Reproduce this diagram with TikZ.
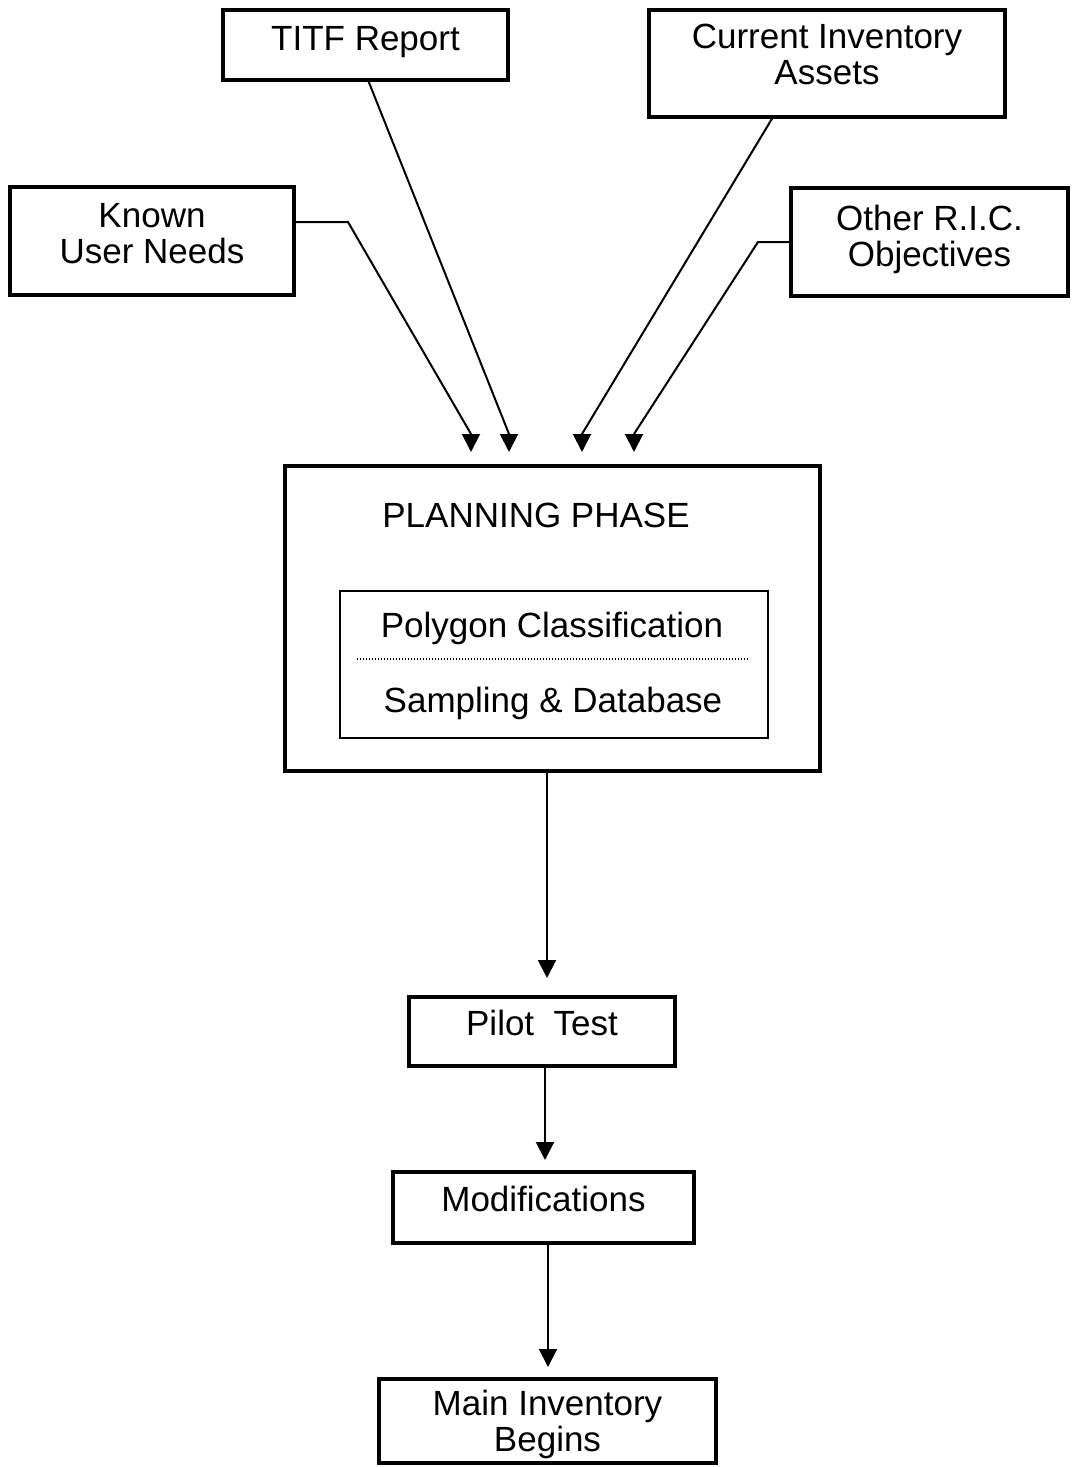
\documentclass[tikz,border=0pt]{standalone}
\usepackage{fontspec}
\setmainfont{Liberation Sans}
\usetikzlibrary{arrows.meta,calc}
\begin{document}
\begin{tikzpicture}[x=0.5pt,y=-0.5pt,
  every node/.style={font=\fontsize{17.5}{18}\selectfont},
  box/.style={draw, line width=2pt, inner sep=0pt, outer sep=0pt, align=center, text height=12.5pt},
  twoline/.style={box, text height=30.5pt},
  conn/.style={line width=1pt, -{Triangle[width=9pt,length=9pt]}}]
\useasboundingbox (0,0) rectangle (1071,1467);

% input boxes
\node[box, minimum width=142.5pt, minimum height=35pt, text depth=7.5pt] (titf) at (365.5,45) {TITF Report};
\node[twoline, minimum width=178pt, minimum height=53.5pt, text depth=10pt] (cur) at (827,63.5) {Current Inventory\\Assets};
\node[twoline, minimum width=142pt, minimum height=54pt, text depth=8.5pt] (known) at (152,241) {Known\\User Needs};
\node[twoline, minimum width=138.5pt, minimum height=54pt, text depth=6.5pt] (ric) at (929.5,242) {Other R.I.C.\\Objectives};

% planning phase
\node[box, minimum width=267.5pt, minimum height=152.5pt] (plan) at (552.5,618.5) {};
\node[anchor=base] (plantitle) at (536,527) {PLANNING PHASE};
\node[draw, line width=0.8pt, minimum width=214pt, minimum height=73.5pt, inner sep=0pt, outer sep=0pt] (inner) at (554,664.5) {};
\node[anchor=base] (poly) at (552,637) {Polygon Classification};
\node[anchor=base] (samp) at (553,712) {Sampling \& Database};
\draw[line width=0.7pt, dash pattern=on 0.6pt off 0.9pt]
  ([xshift=8.5pt,yshift=2.75pt]inner.west) -- ([xshift=-9pt,yshift=2.75pt]inner.east);

% downstream steps
\node[box, minimum width=133pt, minimum height=34.5pt, text depth=9pt] (pilot) at (542,1031.5) {Pilot\ \ Test};
\node[box, minimum width=150.5pt, minimum height=35.5pt, text depth=9pt] (mods) at (543.5,1207.5) {Modifications};
\node[twoline, minimum width=168.5pt, minimum height=42pt, text depth=0pt] (main) at (547.5,1421) {Main Inventory\\Begins};

% bends of the incoming connectors
\coordinate (kb) at (348,222);
\coordinate (ka) at (471,434);
\coordinate (ta) at (509,434);
\coordinate (ca) at (582,434);
\coordinate (ob) at (758,242);
\coordinate (oa) at (634,434);

\draw[conn, shorten >=7pt] (known.east |- kb) -- (kb) -- (ka) -- (ka |- plan.north);
\draw[conn, shorten >=7pt] ([xshift=1.25pt]titf.south) -- (ta) -- (ta |- plan.north);
\draw[conn, shorten >=7pt] ([xshift=-27pt]cur.south) -- (ca) -- (ca |- plan.north);
\draw[conn, shorten >=7pt] (ric.west |- ob) -- (ob) -- (oa) -- (oa |- plan.north);

% main flow
\draw[conn, shorten >=9.5pt] ([xshift=-2.75pt]plan.south) -- ([xshift=-2.75pt]plan.south |- pilot.north);
\draw[conn, shorten >=6pt] ([xshift=1.5pt]pilot.south) -- ([xshift=1.5pt]pilot.south |- mods.north);
\draw[conn, shorten >=6pt] ([xshift=2.25pt]mods.south) -- ([xshift=2.25pt]mods.south |- main.north);
\end{tikzpicture}
\end{document}
